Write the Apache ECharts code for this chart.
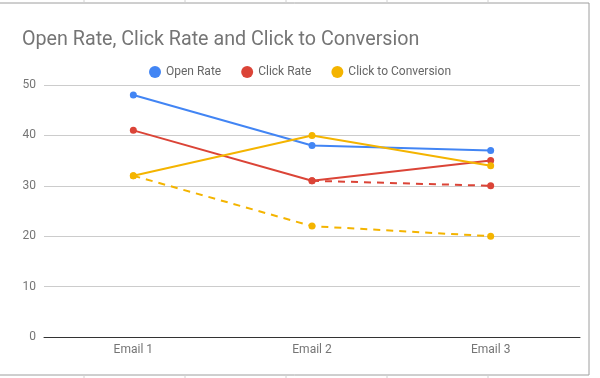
<!DOCTYPE html>
<html lang="en">
<head>
    <meta charset="UTF-8">
    <title>Open Rate, Click Rate and Click to Conversion</title>
    <script src="https://cdn.jsdelivr.net/npm/echarts@6/dist/echarts.min.js"></script>
    <style>
        html, body { margin: 0; padding: 0; background: #fff; }
        .chart { width: 600px; height: 378px; }
    </style>
</head>
<body>
    <div class="chart"></div>
<script>
    // data
    var categories = ['Email 1', 'Email 2', 'Email 3']
    var openRate = [48, 38, 37]
    var clickRate = [41, 31, 35]
    var clickConv = [32, 40, 34]
    var clickRateDashed = [null, 31, 30]
    var clickConvDashed = [32, 22, 20]

    var blue = '#4285F4', red = '#DB4437', yellow = '#F4B400'

    let mCharts = echarts.init(document.querySelector('.chart'))

    function lineSeries(name, data, color, dashed) {
        return {
            name: name,
            type: 'line',
            data: data,
            symbol: 'circle',
            symbolSize: 7,
            connectNulls: false,
            itemStyle: { color: color },
            lineStyle: { color: color, width: 2, type: dashed ? [7, 6] : 'solid' },
            emphasis: { disabled: true },
            animation: false
        }
    }

    // spreadsheet frame behind the chart
    var frame = [
        { type: 'line', shape: { x1: 0, y1: 3, x2: 589, y2: 3 }, style: { stroke: '#9e9e9e', lineWidth: 1 } },
        { type: 'line', shape: { x1: 589, y1: 3, x2: 589, y2: 375 }, style: { stroke: '#9e9e9e', lineWidth: 1 } },
        { type: 'line', shape: { x1: 0, y1: 375, x2: 589, y2: 375 }, style: { stroke: '#9e9e9e', lineWidth: 1 } }
    ]
    ;[84, 185, 286, 387, 488].forEach(function (x) {
        frame.push({ type: 'line', shape: { x1: x, y1: 0, x2: x, y2: 3 }, style: { stroke: '#d0d0d0', lineWidth: 1 } })
        frame.push({ type: 'line', shape: { x1: x, y1: 375, x2: x, y2: 378 }, style: { stroke: '#d0d0d0', lineWidth: 1 } })
    })

    let option = {
        backgroundColor: '#fff',
        textStyle: { fontFamily: 'Roboto' },
        graphic: frame,
        title: {
            text: 'Open Rate, Click Rate and Click to Conversion',
            left: 17,
            top: 25,
            textStyle: { fontFamily: 'Roboto', fontSize: 19.7, fontWeight: 'normal', color: '#757575' }
        },
        legend: {
            data: ['Open Rate', 'Click Rate', 'Click to Conversion'],
            top: 61,
            left: 'center',
            icon: 'circle',
            itemWidth: 12,
            itemHeight: 12,
            itemGap: 20,
            textStyle: { fontFamily: 'Roboto', fontSize: 12, color: '#666' }
        },
        grid: { left: 44, right: 20, top: 85, bottom: 41 },
        xAxis: {
            type: 'category',
            data: categories,
            boundaryGap: true,
            axisLine: { lineStyle: { color: '#333', width: 1 } },
            axisTick: { show: false },
            axisLabel: { color: '#757575', fontSize: 12, margin: 7 }
        },
        yAxis: {
            type: 'value',
            min: 0,
            max: 50,
            interval: 10,
            axisLine: { show: false },
            axisTick: { show: false },
            axisLabel: { color: '#757575', fontSize: 12, margin: 8 },
            splitLine: { lineStyle: { color: '#cccccc' } }
        },
        series: [
            lineSeries('Open Rate', openRate, blue, false),
            lineSeries('Click Rate', clickRate, red, false),
            lineSeries('Click to Conversion', clickConv, yellow, false),
            lineSeries('Click Rate trend', clickRateDashed, red, true),
            lineSeries('Click to Conversion trend', clickConvDashed, yellow, true)
        ]
    }
    mCharts.setOption(option)
</script>
</body>
</html>
